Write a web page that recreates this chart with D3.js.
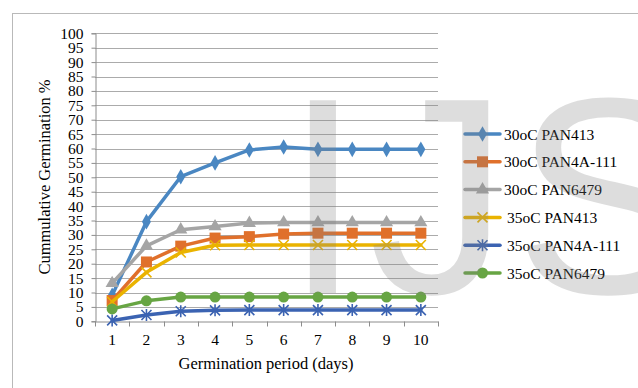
<!DOCTYPE html>
<html>
<head>
<meta charset="utf-8">
<script src="https://cdn.jsdelivr.net/npm/d3@7"></script>
<style>
  html, body { margin: 0; padding: 0; background: #fff; }
  svg { display: block; }
  text { font-family: "Liberation Serif", "Times New Roman", serif; fill: #000; }
  text.wm { font-family: "Liberation Sans", Arial, sans-serif; }
</style>
</head>
<body>
<svg id="chart" width="638" height="388"></svg>
<script>
const days = [1, 2, 3, 4, 5, 6, 7, 8, 9, 10];
const yTicks = d3.range(0, 101, 5);

const s30_PAN413    = [9, 34.6, 50.2, 55.0, 59.5, 60.5, 59.7, 59.7, 59.7, 59.7];
const s30_PAN4A111  = [7.2, 20.6, 26.1, 28.9, 29.4, 30.3, 30.6, 30.6, 30.6, 30.6];
const s30_PAN6479   = [13.2, 26.2, 31.8, 32.9, 34.1, 34.3, 34.3, 34.3, 34.3, 34.3];
const s35_PAN413    = [6.8, 17.0, 23.9, 26.4, 26.5, 26.5, 26.5, 26.5, 26.5, 26.5];
const s35_PAN4A111  = [0.3, 2.2, 3.5, 3.8, 3.9, 3.9, 3.9, 3.9, 3.9, 3.9];
const s35_PAN6479   = [4.3, 7.1, 8.4, 8.4, 8.4, 8.4, 8.4, 8.4, 8.4, 8.4];

const seriesNames = ["30oC PAN413", "30oC PAN4A-111", "30oC PAN6479", "35oC PAN413", "35oC PAN4A-111", "35oC PAN6479"];
const seriesColors = ["#4a87c2", "#e0702b", "#a5a5a5", "#eab300", "#3b63b2", "#67a543"];
const seriesMarkers = ["diamond", "square", "triangle", "x", "star", "circle"];
const seriesValues = [s30_PAN413, s30_PAN4A111, s30_PAN6479, s35_PAN413, s35_PAN4A111, s35_PAN6479];

const watermarkLetters = ["I", "J", "S"];

const svg = d3.select("#chart");

svg.append("rect").attr("x", 12.5).attr("y", 13.5).attr("width", 700).attr("height", 500)
  .attr("fill", "none").attr("stroke", "#b9b9b9").attr("stroke-width", 1);

const pLeft = 95, pRight = 438, pTop = 33.3, pBottom = 321.3;
const x = d3.scaleBand().domain(days).range([pLeft, pRight]);
const y = d3.scaleLinear().domain([0, 100]).range([pBottom, pTop]);
const cx = d => x(d) + x.bandwidth() / 2;

svg.append("g").selectAll("line").data(yTicks.filter(t => t > 0)).join("line")
  .attr("x1", pLeft).attr("x2", pRight)
  .attr("y1", d => Math.round(y(d)) + 0.5).attr("y2", d => Math.round(y(d)) + 0.5)
  .attr("stroke", "#ababab").attr("stroke-width", 1);

const yAxis = d3.axisLeft(y).tickValues(yTicks).tickSize(4).tickPadding(8);
const gy = svg.append("g").attr("transform", `translate(${pLeft + 0.5},0)`).call(yAxis);
gy.select(".domain").attr("stroke", "#8c8c8c");
gy.selectAll(".tick line").attr("stroke", "#8c8c8c");
gy.selectAll(".tick text").attr("font-size", 15.5).attr("font-family", "Liberation Serif").attr("fill", "#111");

const xAxis = d3.axisBottom(x).tickSize(0).tickPadding(12);
const gx = svg.append("g").attr("transform", `translate(0,${Math.round(pBottom) + 0.5})`).call(xAxis);
gx.select(".domain").attr("stroke", "#8c8c8c");
gx.selectAll(".tick text").attr("font-size", 15.5).attr("font-family", "Liberation Serif").attr("fill", "#111");
const bounds = days.map(d => x(d)).concat([pRight]);
gx.append("g").selectAll("line").data(bounds).join("line")
  .attr("x1", d => Math.round(d) + 0.5).attr("x2", d => Math.round(d) + 0.5)
  .attr("y1", 0).attr("y2", 5).attr("stroke", "#8c8c8c");

svg.append("text").attr("x", 266).attr("y", 369).attr("text-anchor", "middle")
  .attr("font-size", 16.5).text("Germination period (days)");
svg.append("text").attr("transform", "translate(50,177) rotate(-90)").attr("text-anchor", "middle")
  .attr("font-size", 16.5).text("Cummulative Germination %");

function drawMarker(g, type, color) {
  if (type === "diamond") {
    g.append("path").attr("d", d3.symbol(d3.symbolDiamond, 70)()).attr("fill", color);
  } else if (type === "square") {
    g.append("rect").attr("x", -5.5).attr("y", -5.5).attr("width", 11).attr("height", 11).attr("fill", color);
  } else if (type === "triangle") {
    g.append("path").attr("d", d3.symbol(d3.symbolTriangle, 75)()).attr("fill", color);
  } else if (type === "circle") {
    g.append("circle").attr("r", 5.5).attr("fill", color);
  } else if (type === "x") {
    g.append("path").attr("d", "M-5,-5L5,5M-5,5L5,-5").attr("stroke", color).attr("stroke-width", 1.6).attr("fill", "none");
  } else if (type === "star") {
    g.append("path").attr("d", "M-5,-5L5,5M-5,5L5,-5M0,-6L0,6").attr("stroke", color).attr("stroke-width", 1.6).attr("fill", "none");
  }
}

const line = d3.line().x((d, i) => cx(days[i])).y(d => y(d));

seriesValues.forEach((vals, si) => {
  const g = svg.append("g");
  g.append("path").datum(vals).attr("d", line).attr("fill", "none")
    .attr("stroke", seriesColors[si]).attr("stroke-width", 3.5).attr("stroke-linejoin", "round").attr("stroke-linecap", "round");
  vals.forEach((v, i) => {
    const mg = g.append("g").attr("transform", `translate(${cx(days[i])},${y(v)})`);
    drawMarker(mg, seriesMarkers[si], seriesColors[si]);
  });
});

const legendY0 = 134, legendStep = 27.8;
seriesNames.forEach((name, si) => {
  const ly = legendY0 + si * legendStep;
  const g = svg.append("g");
  g.append("line").attr("x1", 465).attr("x2", 500).attr("y1", ly).attr("y2", ly)
    .attr("stroke", seriesColors[si]).attr("stroke-width", 3.5).attr("stroke-linecap", "round");
  const mg = g.append("g").attr("transform", `translate(482.5,${ly})`);
  drawMarker(mg, seriesMarkers[si], seriesColors[si]);
  g.append("text").attr("x", si < 3 ? 504 : 507).attr("y", ly + 5.5).attr("font-size", 15.5).text(name);
});

// watermark (semi-transparent, drawn over the chart)
const wmX = [284, 369, 514];
watermarkLetters.forEach((ch, i) => {
  svg.append("text").attr("class", "wm").attr("x", wmX[i]).attr("y", 293)
    .attr("font-size", 280).style("fill", "#808080").attr("fill-opacity", 0.27).text(ch);
});
</script>
</body>
</html>
